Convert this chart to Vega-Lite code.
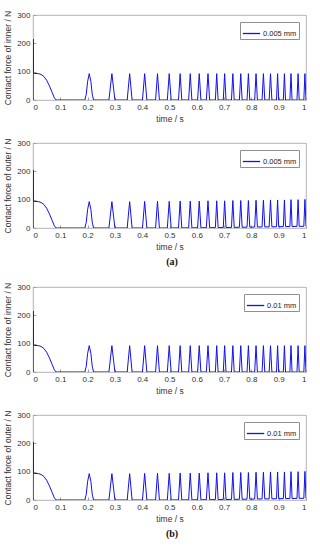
{
  "$schema": "https://vega.github.io/schema/vega-lite/v6.json",
  "padding": {"left": 3, "top": 9, "right": 9, "bottom": 5},
  "background": "white",
  "spacing": 14,
  "config": {
    "font": "Liberation Sans",
    "view": {"stroke": "#a0a0a0", "strokeWidth": 0.8},
    "axis": {"grid": false, "domain": false, "tickColor": "#a0a0a0", "tickSize": -3, "labelPadding": 6, "labelFontSize": 8, "titleFontSize": 8.5, "labelColor": "#333333", "titleColor": "#333333", "titleFontWeight": "normal"},
    "legend": {"orient": "top-right", "offset": 7, "fillColor": "white", "strokeColor": "#909090", "padding": 2, "symbolType": "stroke", "symbolSize": 300, "symbolStrokeWidth": 1.3, "labelFontSize": 7.5, "labelColor": "#222222", "title": null, "labelOffset": 2},
    "concat": {"spacing": 14},
    "title": {"font": "Liberation Serif", "fontSize": 10, "fontWeight": "bold", "color": "#111111", "orient": "bottom", "offset": 6, "anchor": "middle", "dx": 17}
  },
  "datasets": {
    "inner": [
      {"t": 0.0004, "f": 0}, {"t": 0.001, "f": 215}, {"t": 0.002, "f": 94}, {"t": 0.02, "f": 93}, {"t": 0.03, "f": 90}, {"t": 0.04, "f": 83}, {"t": 0.05, "f": 70}, {"t": 0.06, "f": 50}, {"t": 0.07, "f": 27}, {"t": 0.078, "f": 8}, {"t": 0.085, "f": 0},
      {"t": 0.19, "f": 0}, {"t": 0.195, "f": 20}, {"t": 0.2, "f": 65}, {"t": 0.206, "f": 93}, {"t": 0.212, "f": 65}, {"t": 0.217, "f": 20}, {"t": 0.222, "f": 0},
      {"t": 0.278, "f": 0}, {"t": 0.289, "f": 93}, {"t": 0.3, "f": 0},
      {"t": 0.345, "f": 0}, {"t": 0.354, "f": 93}, {"t": 0.363, "f": 0},
      {"t": 0.401, "f": 0}, {"t": 0.409, "f": 93}, {"t": 0.417, "f": 0},
      {"t": 0.449, "f": 0}, {"t": 0.456, "f": 93}, {"t": 0.463, "f": 0},
      {"t": 0.492, "f": 0}, {"t": 0.499, "f": 93}, {"t": 0.506, "f": 0},
      {"t": 0.533, "f": 0}, {"t": 0.539, "f": 93}, {"t": 0.545, "f": 0},
      {"t": 0.57, "f": 0}, {"t": 0.576, "f": 93}, {"t": 0.582, "f": 0},
      {"t": 0.603, "f": 0}, {"t": 0.609, "f": 93}, {"t": 0.615, "f": 0},
      {"t": 0.635, "f": 0}, {"t": 0.641, "f": 93}, {"t": 0.647, "f": 0},
      {"t": 0.668, "f": 0}, {"t": 0.673, "f": 93}, {"t": 0.678, "f": 0},
      {"t": 0.697, "f": 0}, {"t": 0.702, "f": 93}, {"t": 0.707, "f": 0},
      {"t": 0.727, "f": 0}, {"t": 0.732, "f": 93}, {"t": 0.737, "f": 0},
      {"t": 0.756, "f": 0}, {"t": 0.761, "f": 93}, {"t": 0.766, "f": 0},
      {"t": 0.784, "f": 0}, {"t": 0.789, "f": 93}, {"t": 0.794, "f": 0},
      {"t": 0.812, "f": 0}, {"t": 0.817, "f": 93}, {"t": 0.822, "f": 0},
      {"t": 0.839, "f": 0}, {"t": 0.844, "f": 93}, {"t": 0.849, "f": 0},
      {"t": 0.865, "f": 0}, {"t": 0.87, "f": 93}, {"t": 0.875, "f": 0},
      {"t": 0.892, "f": 0}, {"t": 0.896, "f": 93}, {"t": 0.9, "f": 0},
      {"t": 0.917, "f": 0}, {"t": 0.921, "f": 93}, {"t": 0.925, "f": 0},
      {"t": 0.941, "f": 0}, {"t": 0.945, "f": 93}, {"t": 0.949, "f": 0},
      {"t": 0.967, "f": 0}, {"t": 0.971, "f": 93}, {"t": 0.975, "f": 0},
      {"t": 0.992, "f": 0}, {"t": 0.996, "f": 93}, {"t": 1.0, "f": 0}
    ],
    "outer": [
      {"t": 0.0004, "f": 0}, {"t": 0.001, "f": 205}, {"t": 0.002, "f": 94}, {"t": 0.02, "f": 93}, {"t": 0.03, "f": 90}, {"t": 0.04, "f": 83}, {"t": 0.05, "f": 70}, {"t": 0.06, "f": 50}, {"t": 0.07, "f": 27}, {"t": 0.078, "f": 8}, {"t": 0.085, "f": 0},
      {"t": 0.19, "f": 0}, {"t": 0.195, "f": 20}, {"t": 0.2, "f": 65}, {"t": 0.206, "f": 93}, {"t": 0.212, "f": 65}, {"t": 0.217, "f": 20}, {"t": 0.222, "f": 0},
      {"t": 0.278, "f": 0}, {"t": 0.289, "f": 93}, {"t": 0.3, "f": 0},
      {"t": 0.345, "f": 0}, {"t": 0.354, "f": 93}, {"t": 0.363, "f": 0},
      {"t": 0.401, "f": 0}, {"t": 0.409, "f": 94}, {"t": 0.417, "f": 0},
      {"t": 0.449, "f": 0}, {"t": 0.456, "f": 94}, {"t": 0.463, "f": 0},
      {"t": 0.492, "f": 0}, {"t": 0.499, "f": 94}, {"t": 0.506, "f": 0},
      {"t": 0.533, "f": 0.3}, {"t": 0.539, "f": 95}, {"t": 0.545, "f": 0.3},
      {"t": 0.57, "f": 0.5}, {"t": 0.576, "f": 95}, {"t": 0.582, "f": 0.5},
      {"t": 0.603, "f": 0.8}, {"t": 0.609, "f": 95}, {"t": 0.615, "f": 0.8},
      {"t": 0.635, "f": 1.1}, {"t": 0.641, "f": 96}, {"t": 0.647, "f": 1.1},
      {"t": 0.668, "f": 1.4}, {"t": 0.673, "f": 96}, {"t": 0.678, "f": 1.4},
      {"t": 0.697, "f": 1.8}, {"t": 0.702, "f": 96}, {"t": 0.707, "f": 1.8},
      {"t": 0.727, "f": 2.2}, {"t": 0.732, "f": 97}, {"t": 0.737, "f": 2.2},
      {"t": 0.756, "f": 2.6}, {"t": 0.761, "f": 97}, {"t": 0.766, "f": 2.6},
      {"t": 0.784, "f": 3.0}, {"t": 0.789, "f": 97}, {"t": 0.794, "f": 3.0},
      {"t": 0.812, "f": 3.4}, {"t": 0.817, "f": 98}, {"t": 0.822, "f": 3.4},
      {"t": 0.839, "f": 3.8}, {"t": 0.844, "f": 98}, {"t": 0.849, "f": 3.8},
      {"t": 0.865, "f": 4.2}, {"t": 0.87, "f": 99}, {"t": 0.875, "f": 4.2},
      {"t": 0.892, "f": 4.6}, {"t": 0.896, "f": 99}, {"t": 0.9, "f": 4.6},
      {"t": 0.917, "f": 5.0}, {"t": 0.921, "f": 99}, {"t": 0.925, "f": 5.0},
      {"t": 0.941, "f": 5.3}, {"t": 0.945, "f": 100}, {"t": 0.949, "f": 5.3},
      {"t": 0.967, "f": 5.7}, {"t": 0.971, "f": 100}, {"t": 0.975, "f": 5.7},
      {"t": 0.992, "f": 6.0}, {"t": 0.996, "f": 101}, {"t": 1.0, "f": 6.0}
    ]
  },
  "vconcat": [
    {
      "title": {"text": "(a)"},
      "resolve": {"scale": {"color": "independent"}},
      "vconcat": [
        {
          "width": 273, "height": 85,
          "data": {"name": "inner"},
          "mark": {"type": "line", "strokeWidth": 1, "clip": true},
          "encoding": {
            "x": {"field": "t", "type": "quantitative", "scale": {"domain": [0, 1], "nice": false}, "axis": {"values": [0, 0.1, 0.2, 0.3, 0.4, 0.5, 0.6, 0.7, 0.8, 0.9, 1], "format": "~g", "title": "time / s", "titlePadding": 3}},
            "y": {"field": "f", "type": "quantitative", "scale": {"domain": [0, 300], "nice": false}, "axis": {"values": [0, 100, 200, 300], "title": "Contact force of inner / N", "titlePadding": 4}},
            "color": {"datum": "0.005 mm", "scale": {"range": ["#1010f0"]}}
          }
        },
        {
          "width": 273, "height": 85,
          "data": {"name": "outer"},
          "mark": {"type": "line", "strokeWidth": 1, "clip": true},
          "encoding": {
            "x": {"field": "t", "type": "quantitative", "scale": {"domain": [0, 1], "nice": false}, "axis": {"values": [0, 0.1, 0.2, 0.3, 0.4, 0.5, 0.6, 0.7, 0.8, 0.9, 1], "format": "~g", "title": "time / s", "titlePadding": 3}},
            "y": {"field": "f", "type": "quantitative", "scale": {"domain": [0, 300], "nice": false}, "axis": {"values": [0, 100, 200, 300], "title": "Contact force of outer / N", "titlePadding": 4}},
            "color": {"datum": "0.005 mm", "scale": {"range": ["#1010f0"]}}
          }
        }
      ]
    },
    {
      "title": {"text": "(b)"},
      "resolve": {"scale": {"color": "independent"}},
      "vconcat": [
        {
          "width": 273, "height": 85,
          "data": {"name": "inner"},
          "mark": {"type": "line", "strokeWidth": 1, "clip": true},
          "encoding": {
            "x": {"field": "t", "type": "quantitative", "scale": {"domain": [0, 1], "nice": false}, "axis": {"values": [0, 0.1, 0.2, 0.3, 0.4, 0.5, 0.6, 0.7, 0.8, 0.9, 1], "format": "~g", "title": "time / s", "titlePadding": 3}},
            "y": {"field": "f", "type": "quantitative", "scale": {"domain": [0, 300], "nice": false}, "axis": {"values": [0, 100, 200, 300], "title": "Contact force of inner / N", "titlePadding": 4}},
            "color": {"datum": "0.01 mm", "scale": {"range": ["#1010f0"]}}
          }
        },
        {
          "width": 273, "height": 85,
          "data": {"name": "outer"},
          "mark": {"type": "line", "strokeWidth": 1, "clip": true},
          "encoding": {
            "x": {"field": "t", "type": "quantitative", "scale": {"domain": [0, 1], "nice": false}, "axis": {"values": [0, 0.1, 0.2, 0.3, 0.4, 0.5, 0.6, 0.7, 0.8, 0.9, 1], "format": "~g", "title": "time / s", "titlePadding": 3}},
            "y": {"field": "f", "type": "quantitative", "scale": {"domain": [0, 300], "nice": false}, "axis": {"values": [0, 100, 200, 300], "title": "Contact force of outer / N", "titlePadding": 4}},
            "color": {"datum": "0.01 mm", "scale": {"range": ["#1010f0"]}}
          }
        }
      ]
    }
  ],
  "resolve": {"scale": {"color": "independent"}}
}
